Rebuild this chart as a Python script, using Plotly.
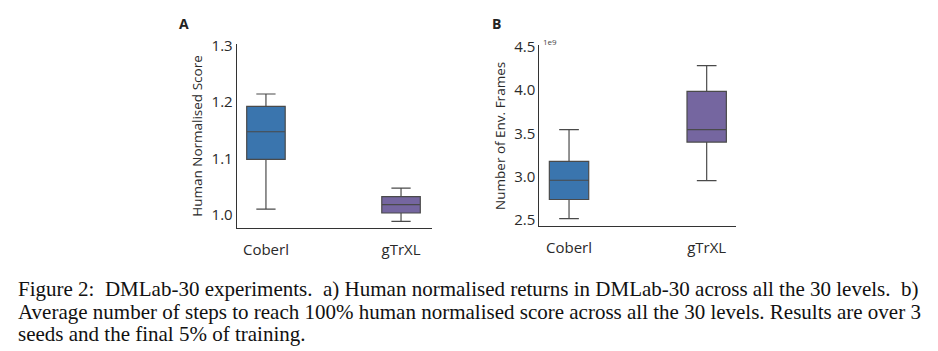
import plotly.graph_objects as go

models = ["Coberl", "gTrXL"]
colors = ["#3a75ae", "#7566a0"]

# Panel A: human normalised score (box stats)
a_lower = [1.010, 0.988]
a_q1 = [1.098, 1.003]
a_median = [1.147, 1.018]
a_q3 = [1.192, 1.032]
a_upper = [1.214, 1.047]
a_ticks = [1.0, 1.1, 1.2, 1.3]
a_ticktext = ["1.0", "1.1", "1.2", "1.3"]

# Panel B: number of env frames
b_lower = [2.515e9, 2.954e9]
b_q1 = [2.735e9, 3.400e9]
b_median = [2.958e9, 3.543e9]
b_q3 = [3.177e9, 3.986e9]
b_upper = [3.543e9, 4.284e9]
b_ticks = [2.5e9, 3.0e9, 3.5e9, 4.0e9, 4.5e9]
b_ticktext = ["2.5", "3.0", "3.5", "4.0", "4.5"]

caption = [
    "Figure 2:  DMLab-30 experiments.  a) Human normalised returns in DMLab-30 across all the 30 levels.  b)",
    "Average number of steps to reach 100% human normalised score across all the 30 levels. Results are over 3",
    "seeds and the final 5% of training.",
]

W, H = 938, 351
FONT = "Open Sans"
EDGE = "#4a4a4a"

fig = go.Figure()
for i, m in enumerate(models):
    fig.add_trace(go.Box(
        x=[m], q1=[a_q1[i]], median=[a_median[i]], q3=[a_q3[i]],
        lowerfence=[a_lower[i]], upperfence=[a_upper[i]],
        fillcolor=colors[i], line=dict(color=EDGE, width=1.2),
        width=0.285, whiskerwidth=0.5, boxpoints=False,
        xaxis="x", yaxis="y", showlegend=False, hoverinfo="skip"))
    fig.add_trace(go.Box(
        x=[m], q1=[b_q1[i]], median=[b_median[i]], q3=[b_q3[i]],
        lowerfence=[b_lower[i]], upperfence=[b_upper[i]],
        fillcolor=colors[i], line=dict(color=EDGE, width=1.2),
        width=0.286, whiskerwidth=0.5, boxpoints=False,
        xaxis="x2", yaxis="y2", showlegend=False, hoverinfo="skip"))

def px_x(p):
    return p / W

def px_y(p):
    return 1 - p / H

axis_common = dict(showgrid=False, zeroline=False, showline=True,
                   linecolor="#333333", linewidth=1, ticks="",
                   tickfont=dict(family=FONT, size=15, color="#2a2a2a"))

fig.update_layout(
    width=W, height=H, margin=dict(l=0, r=0, t=0, b=0),
    paper_bgcolor="white", plot_bgcolor="white",
    xaxis=dict(domain=[px_x(236.7), px_x(431.7)], anchor="y",
               range=[-0.2165, 1.227], type="category",
               ticklabelstandoff=8, **axis_common),
    yaxis=dict(domain=[px_y(227), px_y(36)], anchor="x",
               range=[0.976, 1.303], tickvals=a_ticks, ticktext=a_ticktext,
               title=dict(text="Human Normalised Score",
                          font=dict(family=FONT, size=13.5, color="#2a2a2a"),
                          standoff=5),
               **axis_common),
    xaxis2=dict(domain=[px_x(539.3), px_x(736)], anchor="y2",
                range=[-0.216, 1.213], type="category",
                ticklabelstandoff=8, **axis_common),
    yaxis2=dict(domain=[px_y(225), px_y(37.7)], anchor="x2",
                range=[2.425e9, 4.518e9], tickvals=b_ticks, ticktext=b_ticktext,
                title=dict(text="Number of Env. Frames",
                           font=dict(family=FONT, size=13.5, color="#2a2a2a"),
                           standoff=5),
                **axis_common),
)

ann = []
ann.append(dict(text="<b>A</b>", x=px_x(177), y=px_y(15), xref="paper", yref="paper",
                xanchor="left", yanchor="middle", showarrow=False,
                font=dict(family=FONT, size=14, color="#222222")))
ann.append(dict(text="<b>B</b>", x=px_x(490), y=px_y(15), xref="paper", yref="paper",
                xanchor="left", yanchor="middle", showarrow=False,
                font=dict(family=FONT, size=14, color="#222222")))
ann.append(dict(text="1e9", x=px_x(541), y=px_y(34), xref="paper", yref="paper",
                xanchor="left", yanchor="middle", showarrow=False,
                font=dict(family=FONT, size=8, color="#444444")))
for k, line in enumerate(caption):
    ann.append(dict(text=line, x=px_x(16), y=px_y(290 + 23.4 * k), xref="paper", yref="paper",
                    xanchor="left", yanchor="middle", showarrow=False,
                    font=dict(family="Liberation Serif", size=21, color="#111111")))
fig.update_layout(annotations=ann)

fig.write_html("out.html")
